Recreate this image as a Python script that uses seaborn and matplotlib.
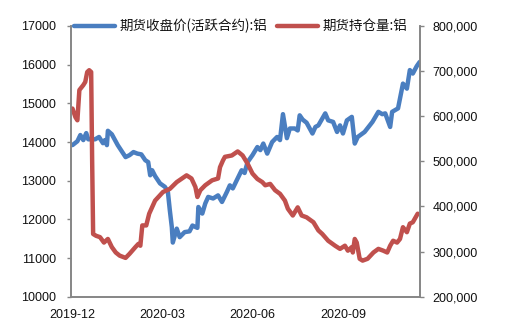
import matplotlib
matplotlib.use("Agg")
import matplotlib.pyplot as plt
import matplotlib.dates as mdates
from matplotlib.ticker import FuncFormatter, MultipleLocator
from matplotlib.lines import Line2D
import seaborn as sns
import pandas as pd

# ---------------- data ----------------
price_label = "期货收盘价(活跃合约):铝"
oi_label = "期货持仓量:铝"

price_dates = [
    "2019-12-01", "2019-12-06", "2019-12-09", "2019-12-12", "2019-12-15", "2019-12-17", "2019-12-24", "2019-12-28", "2020-01-01", "2020-01-03",
    "2020-01-05", "2020-01-06", "2020-01-10", "2020-01-16", "2020-01-24", "2020-01-28", "2020-02-01", "2020-02-05", "2020-02-09", "2020-02-13",
    "2020-02-16", "2020-02-18", "2020-02-20", "2020-02-23", "2020-02-28", "2020-03-04", "2020-03-07", "2020-03-09", "2020-03-11", "2020-03-12",
    "2020-03-16", "2020-03-19", "2020-03-24", "2020-03-29", "2020-04-01", "2020-04-06", "2020-04-07", "2020-04-11", "2020-04-14", "2020-04-17",
    "2020-04-22", "2020-04-27", "2020-05-01", "2020-05-06", "2020-05-09", "2020-05-12", "2020-05-16", "2020-05-21", "2020-05-24", "2020-05-27",
    "2020-06-01", "2020-06-06", "2020-06-09", "2020-06-12", "2020-06-16", "2020-06-21", "2020-06-26", "2020-06-29", "2020-07-02", "2020-07-06",
    "2020-07-09", "2020-07-14", "2020-07-17", "2020-07-19", "2020-07-22", "2020-07-26", "2020-08-01", "2020-08-04", "2020-08-07", "2020-08-14",
    "2020-08-17", "2020-08-22", "2020-08-26", "2020-08-29", "2020-09-01", "2020-09-05", "2020-09-10", "2020-09-13", "2020-09-16", "2020-09-23",
    "2020-10-01", "2020-10-07", "2020-10-11", "2020-10-14", "2020-10-19", "2020-10-21", "2020-10-27", "2020-11-01", "2020-11-05", "2020-11-08",
    "2020-11-11", "2020-11-15", "2020-11-18",
]
price_values = [
    13920, 14020, 14180, 14050, 14230, 14070, 14070, 14130, 13970, 14050,
    13920, 14290, 14200, 13920, 13610, 13660, 13740, 13700, 13680, 13530,
    13480, 13140, 13270, 13120, 12930, 12840, 12710, 12230, 11800, 11400,
    11760, 11540, 11670, 11690, 11840, 11780, 12320, 12150, 12410, 12580,
    12540, 12620, 12450, 12710, 12880, 12800, 13010, 13270, 13200, 13480,
    13660, 13870, 13790, 13960, 13700, 14000, 14130, 14050, 14720, 14100,
    14350, 14350, 14300, 14690, 14580, 14500, 14220, 14390, 14430, 14740,
    14560, 14520, 14260, 14430, 14220, 14560, 14650, 13960, 14130, 14260,
    14520, 14780, 14720, 14740, 14390, 14780, 14870, 15510, 15380, 15860,
    15770, 15960, 16070,
]

oi_dates = [
    "2019-12-01", "2019-12-04", "2019-12-06", "2019-12-08", "2019-12-12", "2019-12-14", "2019-12-16", "2019-12-18", "2019-12-20", "2019-12-21",
    "2019-12-22", "2019-12-25", "2019-12-29", "2020-01-02", "2020-01-06", "2020-01-10", "2020-01-14", "2020-01-18", "2020-01-24", "2020-01-28",
    "2020-02-03", "2020-02-06", "2020-02-08", "2020-02-10", "2020-02-14", "2020-02-17", "2020-02-23", "2020-03-02", "2020-03-09", "2020-03-16",
    "2020-03-26", "2020-03-31", "2020-04-04", "2020-04-06", "2020-04-09", "2020-04-14", "2020-04-21", "2020-04-27", "2020-04-29", "2020-05-02",
    "2020-05-04", "2020-05-11", "2020-05-17", "2020-05-22", "2020-05-27", "2020-06-01", "2020-06-06", "2020-06-11", "2020-06-14", "2020-06-19",
    "2020-06-24", "2020-06-29", "2020-07-04", "2020-07-07", "2020-07-12", "2020-07-17", "2020-07-21", "2020-07-26", "2020-08-02", "2020-08-07",
    "2020-08-11", "2020-08-17", "2020-08-24", "2020-08-29", "2020-09-03", "2020-09-06", "2020-09-10", "2020-09-11", "2020-09-13", "2020-09-15",
    "2020-09-18", "2020-09-21", "2020-09-26", "2020-10-02", "2020-10-07", "2020-10-12", "2020-10-16", "2020-10-19", "2020-10-22", "2020-10-26",
    "2020-10-29", "2020-11-01", "2020-11-05", "2020-11-08", "2020-11-11", "2020-11-16",
]
oi_values = [
    617000, 598000, 591000, 658000, 669000, 676000, 698000, 702000, 698000, 502000,
    339000, 335000, 332000, 320000, 328000, 310000, 298000, 291000, 286000, 295000,
    310000, 317000, 313000, 358000, 358000, 384000, 413000, 432000, 439000, 454000,
    469000, 462000, 443000, 421000, 436000, 447000, 458000, 462000, 487000, 502000,
    510000, 513000, 522000, 513000, 495000, 473000, 461000, 454000, 447000, 450000,
    436000, 428000, 413000, 395000, 380000, 398000, 380000, 376000, 365000, 347000,
    339000, 324000, 313000, 306000, 313000, 302000, 310000, 298000, 328000, 320000,
    284000, 280000, 284000, 298000, 306000, 302000, 298000, 313000, 324000, 320000,
    328000, 354000, 343000, 362000, 365000, 384000,
]

x_ticks = ["2019-12-01", "2020-03-01", "2020-06-01", "2020-09-01"]
x_range = ["2019-11-29 12:00", "2020-11-18 08:00"]

# ---------------- style ----------------
BLUE = "#4A7EC0"
RED = "#C0504D"
GRAY = "#868686"

sns.set_style("white")
plt.rcParams['font.family'] = ['Liberation Sans', 'Noto Sans CJK SC', 'DejaVu Sans']

fig = plt.figure(figsize=(5.05, 3.35), dpi=100)
ax = fig.add_axes([71 / 505, 1 - 296.7 / 335, (420 - 71) / 505, (296.7 - 26) / 335])
ax2 = ax.twinx()

price_df = pd.DataFrame({"date": pd.to_datetime(price_dates), "value": price_values})
oi_df = pd.DataFrame({"date": pd.to_datetime(oi_dates), "value": oi_values})

sns.lineplot(data=price_df, x="date", y="value", ax=ax, color=BLUE, linewidth=3.2, legend=False)
sns.lineplot(data=oi_df, x="date", y="value", ax=ax2, color=RED, linewidth=3.2, legend=False)

ax.set_xlim(pd.to_datetime(x_range[0]), pd.to_datetime(x_range[1]))
ax.set_ylim(10000, 17000)
ax2.set_ylim(200000, 800000)
ax.yaxis.set_major_locator(MultipleLocator(1000))
ax2.yaxis.set_major_locator(MultipleLocator(100000))
ax2.yaxis.set_major_formatter(FuncFormatter(lambda v, p: f"{v:,.0f}"))
ax.set_xticks(pd.to_datetime(x_ticks))
ax.xaxis.set_major_formatter(mdates.DateFormatter("%Y-%m"))

for a in (ax, ax2):
    a.set_xlabel("")
    a.set_ylabel("")
    a.spines["top"].set_visible(False)
    for s in ("left", "right", "bottom"):
        a.spines[s].set_color(GRAY)
        a.spines[s].set_linewidth(1.2)

ax.tick_params(axis="y", direction="out", length=3, width=1, color=GRAY, pad=8, labelsize=9, labelcolor="#111111")
ax2.tick_params(axis="y", direction="out", length=3, width=1, color=GRAY, pad=6, labelsize=9, labelcolor="#111111")
ax.tick_params(axis="x", length=0, pad=9, labelsize=9, labelcolor="#111111")

handles = [Line2D([], [], color=BLUE, linewidth=3.2), Line2D([], [], color=RED, linewidth=3.2)]
leg = ax2.legend(handles, [price_label, oi_label], loc="center", bbox_to_anchor=(0.487, 1.0),
                 ncol=2, frameon=False, handlelength=3.0, handletextpad=0.37, columnspacing=0.74,
                 borderaxespad=0, borderpad=0,
                 prop={"family": ["Noto Sans CJK SC", "DejaVu Sans"], "size": 9.7})
for t in leg.get_texts():
    t.set_color("#111111")

fig.savefig("out.png", dpi=100)
